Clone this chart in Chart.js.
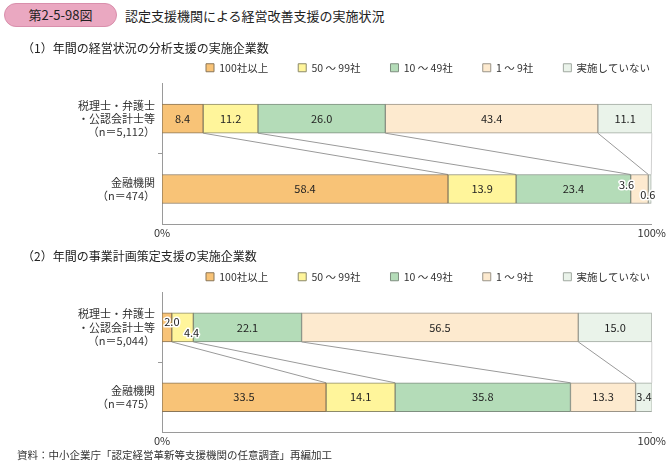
<!DOCTYPE html>
<html lang="ja">
<head>
<meta charset="utf-8">
<script src="https://cdn.jsdelivr.net/npm/chart.js@4/dist/chart.umd.min.js"></script>
<style>
    body { margin: 0; background: #fff; font-family: "Noto Sans CJK JP", sans-serif; color: #333; }
    #page { position: relative; width: 668px; height: 466px; overflow: hidden; }
    .txt { position: absolute; white-space: nowrap; z-index: 2; }
    #badge { position: absolute; left: 4px; top: 3px; width: 111px; height: 22px; background: #eaa8c1; border: 1px solid #d98fac;
        border-radius: 12px; font-size: 13px; line-height: 22px; text-align: center; color: #222; }
    canvas { position: absolute; left: 0; z-index: 1; }
</style>
</head>
<body>
<div id="page">
    <div id="badge">第2-5-98図</div>
    <div class="txt" style="left:125px; top:6px; font-size:13px; color:#222;">認定支援機関による経営改善支援の実施状況</div>
    <div class="txt" style="left:22px; top:39px; font-size:12px; color:#222;">（1）年間の経営状況の分析支援の実施企業数</div>
    <div class="txt" style="left:22px; top:247px; font-size:12px; color:#222;">（2）年間の事業計画策定支援の実施企業数</div>
    <div class="txt" style="left:17px; top:447px; font-size:10.5px; color:#333;">資料：中小企業庁「認定経営革新等支援機関の任意調査」再編加工</div>
    <canvas id="chart1" width="668" height="214" style="top:33px;"></canvas>
    <canvas id="chart2" width="668" height="213" style="top:241.5px;"></canvas>
</div>

<script>
'use strict';

// series names (legend)
var seriesNames = ['100社以上', '50 ～ 99社', '10 ～ 49社', '1 ～ 9社', '実施していない'];

// (1) analysis support
var cats1 = [['税理士・弁護士', '・公認会計士等', '（n＝5,112）'], ['金融機関', '（n＝474）']];
var over100_1 = [8.4, 58.4];
var from50_1 = [11.2, 13.9];
var from10_1 = [26.0, 23.4];
var from1_1 = [43.4, 3.6];
var none_1 = [11.1, 0.6];

// (2) business plan support
var cats2 = [['税理士・弁護士', '・公認会計士等', '（n＝5,044）'], ['金融機関', '（n＝475）']];
var over100_2 = [2.0, 33.5];
var from50_2 = [4.4, 14.1];
var from10_2 = [22.1, 35.8];
var from1_2 = [56.5, 13.3];
var none_2 = [15.0, 3.4];

var axisTicks = [0, 100];

var fillColors = ['#f8c377', '#fff59b', '#b4dcb8', '#fdeacf', '#eaf3ea'];
var edgeColors = ['#8a7658', '#8c8a6a', '#7f8f80', '#9a9488', '#a0a8a0'];
var fontFamily = '"Noto Sans CJK JP", "Noto Sans", sans-serif';

// thin lines joining the same boundary of both bars
var connectorPlugin = {
    id: 'connectors',
    beforeDatasetsDraw: function (chart) {
        var ctx = chart.ctx;
        var count = chart.data.datasets.length;
        ctx.save();
        ctx.lineWidth = 1;
        for (var i = 0; i < count; i++) {
            var meta = chart.getDatasetMeta(i);
            var top = meta.data[0];
            var bottom = meta.data[1];
            ctx.strokeStyle = i === count - 1 ? '#cfcfcf' : '#9a9a9a';
            ctx.beginPath();
            ctx.moveTo(Math.min(top.x, chart.chartArea.right), top.y + top.height / 2);
            ctx.lineTo(Math.min(bottom.x, chart.chartArea.right), bottom.y - bottom.height / 2);
            ctx.stroke();
        }
        ctx.restore();
    }
};

// numbers inside the segments
var valueLabelPlugin = {
    id: 'valueLabels',
    afterDatasetsDraw: function (chart, args, opts) {
        var ctx = chart.ctx;
        var nudge = opts.nudge || {};
        ctx.save();
        ctx.font = '11px ' + fontFamily;
        ctx.textAlign = 'center';
        ctx.textBaseline = 'middle';
        for (var i = 0; i < chart.data.datasets.length; i++) {
            var meta = chart.getDatasetMeta(i);
            for (var j = 0; j < meta.data.length; j++) {
                var el = meta.data[j];
                var text = Number(chart.data.datasets[i].data[j]).toFixed(1);
                var x = (el.x + el.base) / 2;
                var y = el.y;
                var shift = nudge[i + '-' + j];
                if (shift) {
                    x += shift[0];
                    y += shift[1];
                    ctx.strokeStyle = '#fff';
                    ctx.lineWidth = 3;
                    ctx.lineJoin = 'round';
                    ctx.strokeText(text, x, y);
                }
                ctx.fillStyle = '#222';
                ctx.fillText(text, x, y);
            }
        }
        ctx.restore();
    }
};

// legend sits to the right like in the printed figure
var legendSpotPlugin = {
    id: 'legendSpot',
    afterLayout: function (chart) {
        if (!chart.legend) {
            return;
        }
        chart.legend.left = 176;
        chart.legend.right = 800;
        chart.legend.top -= 0.5;
    }
};

function makeChart(canvasId, cats, values, nudge) {
    var datasets = [];
    for (var i = 0; i < values.length; i++) {
        datasets.push({
            label: seriesNames[i],
            data: values[i],
            backgroundColor: fillColors[i],
            borderColor: edgeColors[i],
            borderWidth: 1,
            borderSkipped: false,
            barThickness: 29
        });
    }

    return new Chart(document.getElementById(canvasId), {
        type: 'bar',
        data: {
            labels: cats,
            datasets: datasets
        },
        options: {
            indexAxis: 'y',
            responsive: false,
            animation: false,
            layout: {padding: {left: 0, right: 15, top: 0, bottom: 0}},
            scales: {
                x: {
                    stacked: true,
                    min: axisTicks[0],
                    max: axisTicks[1],
                    afterBuildTicks: function (scale) {
                        scale.ticks = axisTicks.map(function (v) { return {value: v}; });
                    },
                    ticks: {
                        callback: function (v) { return v + '%'; },
                        padding: 2,
                        maxRotation: 0,
                        color: '#333',
                        font: {family: fontFamily, size: 11}
                    },
                    grid: {display: false, drawTicks: false},
                    border: {color: '#9a9a9a'},
                    afterFit: function (scale) { scale.height = 18; }
                },
                y: {
                    stacked: true,
                    ticks: {
                        padding: 3,
                        color: '#333',
                        font: {family: fontFamily, size: 11, lineHeight: 1.2}
                    },
                    grid: {
                        drawOnChartArea: false,
                        tickLength: 4,
                        color: function (c) { return c.index === 1 ? '#9a9a9a' : 'rgba(0,0,0,0)'; }
                    },
                    border: {color: '#9a9a9a'},
                    afterFit: function (scale) { scale.width = 162; }
                }
            },
            plugins: {
                legend: {
                    position: 'top',
                    align: 'start',
                    labels: {
                        boxWidth: 8,
                        boxHeight: 8,
                        padding: 30,
                        color: '#333',
                        font: {family: fontFamily, size: 10.5}
                    }
                },
                tooltip: {enabled: false},
                valueLabels: {nudge: nudge}
            }
        },
        plugins: [connectorPlugin, valueLabelPlugin, legendSpotPlugin]
    });
}

makeChart('chart1', cats1, [over100_1, from50_1, from10_1, from1_1, none_1], {'3-1': [-13, -4.5], '4-1': [-2, 5.5]});
makeChart('chart2', cats2, [over100_2, from50_2, from10_2, from1_2, none_2], {'0-0': [5, -5.5], '1-0': [9, 5.5]});
</script>
</body>
</html>
